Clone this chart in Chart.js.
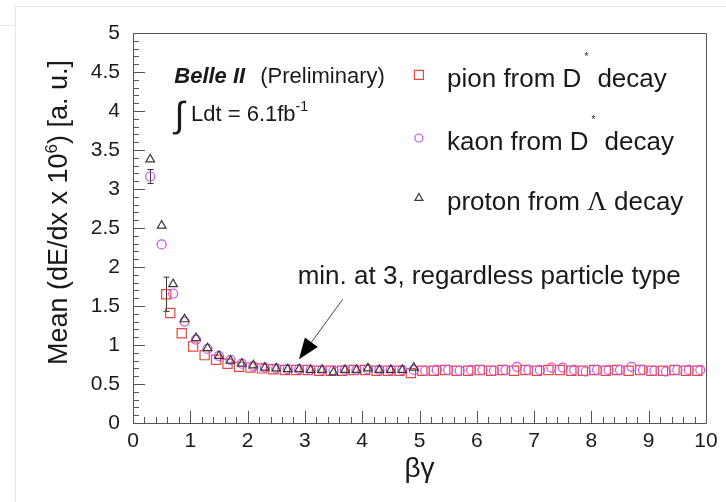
<!DOCTYPE html>
<html>
<head>
<meta charset="utf-8">
<title>Mean dE/dx vs βγ</title>
<script src="https://cdn.jsdelivr.net/npm/chart.js@4/dist/chart.umd.min.js"></script>
<style>
    html, body { margin: 0; padding: 0; background: #fff; }
    #wrap { position: relative; width: 726px; height: 502px; overflow: hidden; }
    #chart { position: absolute; left: 0; top: 0; }
    .edge { position: absolute; background: #e6e6e6; }
</style>
</head>
<body>
<div id="wrap">
    <div class="edge" style="left:0;top:25px;width:15px;height:1px"></div>
    <div class="edge" style="left:15px;top:6px;width:711px;height:1px"></div>
    <div class="edge" style="left:15px;top:6px;width:1px;height:496px"></div>
    <canvas id="chart" width="726" height="502"></canvas>
</div>
<script>
// βγ bin centres and mean dE/dx (x 10^6, a.u.) per particle sample
const protonX = [0.3, 0.5, 0.7, 0.9, 1.1, 1.3, 1.5, 1.7, 1.9, 2.1, 2.3, 2.5, 2.7, 2.9, 3.1, 3.3, 3.5, 3.7, 3.9, 4.1, 4.3, 4.5, 4.7, 4.9];
const protonY = [3.38, 2.53, 1.78, 1.33, 1.09, 0.96, 0.86, 0.80, 0.76, 0.74, 0.71, 0.70, 0.69, 0.69, 0.68, 0.68, 0.65, 0.68, 0.68, 0.70, 0.68, 0.68, 0.68, 0.71];

const kaonX = [0.3, 0.5, 0.7, 0.9, 1.1, 1.3, 1.5, 1.7, 1.9, 2.1, 2.3, 2.5, 2.7, 2.9, 3.1, 3.3, 3.5, 3.7, 3.9, 4.1, 4.3, 4.5, 4.7, 4.9,
    5.1, 5.3, 5.5, 5.7, 5.9, 6.1, 6.3, 6.5, 6.7, 6.9, 7.1, 7.3, 7.5, 7.7, 7.9, 8.1, 8.3, 8.5, 8.7, 8.9, 9.1, 9.3, 9.5, 9.7, 9.9];
const kaonY = [3.16, 2.29, 1.66, 1.30, 1.07, 0.95, 0.86, 0.81, 0.76, 0.73, 0.71, 0.70, 0.69, 0.69, 0.68, 0.68, 0.67, 0.68, 0.68, 0.69, 0.68, 0.68, 0.68, 0.68,
    0.67, 0.68, 0.68, 0.67, 0.68, 0.68, 0.67, 0.68, 0.72, 0.68, 0.68, 0.71, 0.71, 0.68, 0.66, 0.68, 0.68, 0.68, 0.72, 0.68, 0.67, 0.66, 0.68, 0.68, 0.68];
const kaonErr = [0.09];

const pionX = [0.58, 0.65, 0.85, 1.05, 1.25, 1.45, 1.65, 1.85, 2.05, 2.25, 2.45, 2.65, 2.85, 3.05, 3.25, 3.45, 3.65, 3.85, 4.05, 4.25, 4.45, 4.65, 4.85,
    5.05, 5.25, 5.45, 5.65, 5.85, 6.05, 6.25, 6.45, 6.65, 6.85, 7.05, 7.25, 7.45, 7.65, 7.85, 8.05, 8.25, 8.45, 8.65, 8.85, 9.05, 9.25, 9.45, 9.65, 9.85];
const pionY = [1.65, 1.41, 1.15, 0.98, 0.87, 0.81, 0.76, 0.72, 0.71, 0.70, 0.69, 0.68, 0.68, 0.68, 0.67, 0.67, 0.67, 0.68, 0.68, 0.67, 0.67, 0.67, 0.64,
    0.67, 0.67, 0.68, 0.67, 0.67, 0.68, 0.67, 0.68, 0.67, 0.68, 0.67, 0.68, 0.68, 0.67, 0.67, 0.68, 0.67, 0.68, 0.67, 0.68, 0.67, 0.67, 0.68, 0.67, 0.67];
const pionErr = [0.22];

const xTickLabels = ["0", "1", "2", "3", "4", "5", "6", "7", "8", "9", "10"];
const yTickLabels = ["0", "0.5", "1", "1.5", "2", "2.5", "3", "3.5", "4", "4.5", "5"];

(function () {
    "use strict";
    const FONT = "'Liberation Sans', Arial, sans-serif";
    const SERIF = "'Liberation Serif', 'Times New Roman', serif";
    const INK = "#1a1a1a";
    const FRAME = "#555";
    const PION = "#e8473f";
    const KAON = "#cc4ff0";
    const PROTON = "#3a3a3a";

    const points = (xs, ys, errs) => xs.map((x, i) => ({ x, y: ys[i], err: errs && errs[i] ? errs[i] : 0 }));

    const series = (label, data, style, color, radius) => ({
        label, data,
        pointStyle: style, pointRadius: radius, pointHoverRadius: radius,
        pointBorderColor: color, pointBackgroundColor: "rgba(0,0,0,0)", pointBorderWidth: 1.2,
        showLine: false,
    });

    function text(ctx, s, px, py, size, opts = {}) {
        ctx.font = `${opts.weight || ""} ${opts.style || ""} ${size}px ${opts.family || FONT}`.trim();
        ctx.fillStyle = INK;
        ctx.textAlign = opts.align || "left";
        ctx.textBaseline = "alphabetic";
        ctx.fillText(s, px, py);
        return ctx.measureText(s).width;
    }

    function marker(ctx, style, cx, cy, r, color) {
        ctx.strokeStyle = color;
        ctx.lineWidth = 1.2;
        ctx.beginPath();
        if (style === "rect") ctx.rect(cx - r, cy - r, 2 * r, 2 * r);
        else if (style === "circle") ctx.arc(cx, cy, r, 0, Math.PI * 2);
        else { ctx.moveTo(cx, cy - r); ctx.lineTo(cx + r * 0.866, cy + r / 2); ctx.lineTo(cx - r * 0.866, cy + r / 2); ctx.closePath(); }
        ctx.stroke();
    }

    // frame, inward ROOT-style ticks and error bars, behind the markers
    const axesFrame = {
        id: "axesFrame",
        beforeDatasetsDraw(chart) {
            const { ctx, chartArea: a, scales: { x, y } } = chart;
            ctx.save();
            ctx.strokeStyle = FRAME;
            ctx.lineWidth = 1;
            ctx.beginPath();
            ctx.rect(Math.round(a.left) + 0.5, Math.round(a.top) + 0.5, Math.round(a.right - a.left), Math.round(a.bottom - a.top));
            for (let v = 0; v <= 10.001; v += 0.2) {
                const px = Math.round(x.getPixelForValue(v)) + 0.5;
                const len = Math.abs(v - Math.round(v)) < 1e-6 ? 12 : 6;
                ctx.moveTo(px, a.bottom); ctx.lineTo(px, a.bottom - len);
            }
            for (let v = 0; v <= 5.001; v += 0.1) {
                const py = Math.round(y.getPixelForValue(v)) + 0.5;
                const len = Math.abs(v * 2 - Math.round(v * 2)) < 1e-6 ? 12 : 6;
                ctx.moveTo(a.left, py); ctx.lineTo(a.left + len, py);
            }
            ctx.stroke();

            ctx.strokeStyle = "#333";
            ctx.beginPath();
            chart.data.datasets.forEach((ds) => ds.data.forEach((p) => {
                if (!p.err) return;
                const px = Math.round(x.getPixelForValue(p.x)) + 0.5;
                const y1 = y.getPixelForValue(p.y + p.err), y2 = y.getPixelForValue(p.y - p.err);
                ctx.moveTo(px, y1); ctx.lineTo(px, y2);
                ctx.moveTo(px - 3, y1); ctx.lineTo(px + 3, y1);
                ctx.moveTo(px - 3, y2); ctx.lineTo(px + 3, y2);
            }));
            ctx.stroke();
            ctx.restore();
        },
        afterDraw(chart) {
            const { ctx, scales: { x, y } } = chart;
            const X = (v) => x.getPixelForValue(v), Y = (v) => y.getPixelForValue(v);
            ctx.save();

            // y axis title with superscript exponent, right-aligned to the top
            ctx.translate(67, 60);
            ctx.rotate(-Math.PI / 2);
            ctx.font = `27px ${FONT}`;
            const partA = "Mean (dE/dx x 10", partB = ") [a. u.]";
            const wA = ctx.measureText(partA).width, wB = ctx.measureText(partB).width;
            ctx.font = `17px ${FONT}`;
            const wS = ctx.measureText("6").width;
            let cx = -(wA + wS + wB);
            cx += text(ctx, partA, cx, 0, 27);
            cx += text(ctx, "6", cx, -10, 17);
            text(ctx, partB, cx, 0, 27);
            ctx.setTransform(1, 0, 0, 1, 0, 0);

            // experiment label
            const bw = text(ctx, "Belle II", X(0.72), Y(4.363), 22, { weight: "bold", style: "italic" });
            text(ctx, "(Preliminary)", X(0.72) + bw + 15, Y(4.363), 22);
            text(ctx, "\u222B", X(0.73), Y(3.80), 36);
            const lw = text(ctx, "Ldt = 6.1fb", X(1.012), Y(3.877), 22);
            text(ctx, "-1", X(1.012) + lw, Y(3.877) - 10, 14);

            // legend
            const legend = [
                { style: "rect", color: PION, r: 4.5, parts: ["pion from D", "*", "decay"], y: 4.31 },
                { style: "circle", color: KAON, r: 4, parts: ["kaon from D", "*", "decay"], y: 3.50 },
                { style: "triangle", color: PROTON, r: 4.6, parts: ["proton from ", "\u039B", " decay"], y: 2.73 },
            ];
            legend.forEach((e) => {
                const by = Y(e.y);
                marker(ctx, e.style, X(4.99), by - 12, e.r, e.color);
                let tx = X(5.48);
                tx += text(ctx, e.parts[0], tx, by, 26);
                if (e.parts[1] === "*") {
                    text(ctx, e.parts[1], tx + 3, by - 27, 10);
                    text(ctx, e.parts[2], tx + 16, by, 26);
                } else {
                    tx += text(ctx, e.parts[1], tx, by, 27, { family: SERIF });
                    text(ctx, e.parts[2], tx, by, 26);
                }
            });

            // annotation pointing at the minimum
            text(ctx, "min. at 3, regardless particle type", X(2.874), Y(1.782), 26);
            const tx0 = X(3.66), ty0 = Y(1.586), tx1 = X(2.897), ty1 = Y(0.817);
            const ang = Math.atan2(ty1 - ty0, tx1 - tx0);
            const bx = tx1 - 21 * Math.cos(ang), by = ty1 - 21 * Math.sin(ang);
            ctx.strokeStyle = "#444";
            ctx.lineWidth = 1;
            ctx.beginPath(); ctx.moveTo(tx0, ty0); ctx.lineTo(bx, by); ctx.stroke();
            ctx.fillStyle = "#000";
            ctx.beginPath();
            ctx.moveTo(tx1, ty1);
            ctx.lineTo(bx + 8 * Math.sin(ang), by - 8 * Math.cos(ang));
            ctx.lineTo(bx - 8 * Math.sin(ang), by + 8 * Math.cos(ang));
            ctx.closePath(); ctx.fill();
            ctx.restore();
        },
    };

    new Chart(document.getElementById("chart"), {
        type: "scatter",
        data: {
            datasets: [
                series("proton from \u039B decay", points(protonX, protonY), "triangle", PROTON, 5),
                series("kaon from D* decay", points(kaonX, kaonY, kaonErr), "circle", KAON, 4.5),
                series("pion from D* decay", points(pionX, pionY, pionErr), "rect", PION, 6.5),
            ],
        },
        options: {
            responsive: false,
            animation: false,
            events: [],
            layout: { padding: { left: 0, right: 20, top: 33, bottom: 0 } },
            plugins: { legend: { display: false }, tooltip: { enabled: false } },
            scales: {
                x: {
                    type: "linear", min: 0, max: 10,
                    grid: { display: false, drawTicks: false },
                    border: { display: false },
                    ticks: { stepSize: 1, padding: 6, color: INK, font: { family: FONT, size: 21 }, callback: (v, i) => xTickLabels[i] },
                    title: { display: true, text: "\u03B2\u03B3", color: INK, font: { family: FONT, size: 28 }, padding: { top: 0, bottom: 16 } },
                    afterFit: (s) => { s.height = 79; },
                },
                y: {
                    type: "linear", min: 0, max: 5,
                    grid: { display: false, drawTicks: false },
                    border: { display: false },
                    ticks: { stepSize: 0.5, padding: 13, color: INK, font: { family: FONT, size: 21 }, callback: (v, i) => yTickLabels[i] },
                    afterFit: (s) => { s.width = 133; },
                },
            },
        },
        plugins: [axesFrame],
    });
})();
</script>
</body>
</html>
